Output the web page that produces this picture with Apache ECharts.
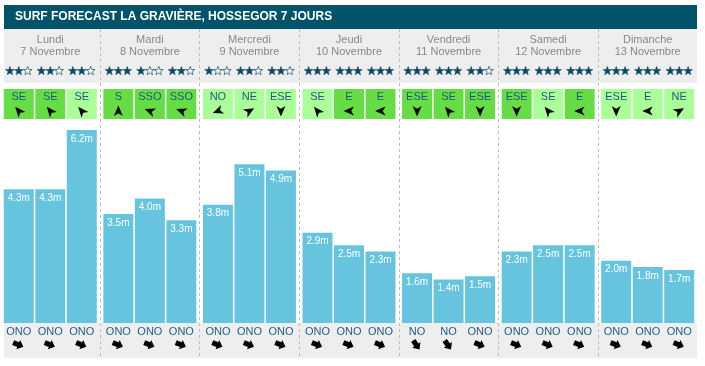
<!DOCTYPE html>
<html>
<head>
<meta charset="utf-8">
<script src="https://cdn.jsdelivr.net/npm/echarts@6/dist/echarts.min.js"></script>
<style>
html,body{margin:0;padding:0;background:#fff;}
#chart{width:705px;height:366px;}
</style>
</head>
<body>
<div id="chart"></div>
<script>
// ---- data ----
var titleText = 'SURF FORECAST LA GRAVIÈRE, HOSSEGOR 7 JOURS';
var days = ['Lundi', 'Mardi', 'Mercredi', 'Jeudi', 'Vendredi', 'Samedi', 'Dimanche'];
var dates = ['7 Novembre', '8 Novembre', '9 Novembre', '10 Novembre', '11 Novembre', '12 Novembre', '13 Novembre'];
var ratings = [[2,2,2],[3,1,2],[1,2,2],[3,3,3],[3,3,2],[3,3,3],[3,3,3]];
var windDirs = [['SE','SE','SE'],['S','SSO','SSO'],['NO','NE','ESE'],['SE','E','E'],['ESE','SE','ESE'],['ESE','SE','E'],['ESE','E','NE']];
var windStrong = [[1,1,0],[1,1,1],[0,0,0],[0,1,1],[1,1,1],[1,0,1],[0,0,0]];
var waveHeights = [[4.3,4.3,6.2],[3.5,4.0,3.3],[3.8,5.1,4.9],[2.9,2.5,2.3],[1.6,1.4,1.5],[2.3,2.5,2.5],[2.0,1.8,1.7]];
var swellDirs = [['ONO','ONO','ONO'],['ONO','ONO','ONO'],['ONO','ONO','ONO'],['ONO','ONO','ONO'],['NO','NO','ONO'],['ONO','ONO','ONO'],['ONO','ONO','ONO']];

// ---- styles ----
var FONT = "'Liberation Sans', Arial, sans-serif";
var BAR_W = 30, BAR_GAP = 0.05;
var SLOT = BAR_W * (1 + BAR_GAP);
var windArrowAngle = {SE: 320, S: 0, SSO: 290, NO: 250, NE: 60, ESE: 180, E: 270};
var swellArrowAngle = {ONO: 112, NO: 145};

function slotX(api, day, slot) {
  return api.coord([day, 0])[0] + (slot - 1) * SLOT;
}
function starPoints(R, r) {
  var pts = [];
  for (var i = 0; i < 10; i++) {
    var a = -Math.PI / 2 + i * Math.PI / 5;
    var rad = i % 2 === 0 ? R : r;
    pts.push([Math.cos(a) * rad, Math.sin(a) * rad]);
  }
  return pts;
}
var STAR = starPoints(4.6, 1.9);
var WIND_ARROW = [[0,-5.5],[4.5,5],[0,2.2],[-4.5,5]];
var SWELL_ARROW = [[0,-6],[5,-0.5],[2.6,-0.5],[2.6,5],[-2.6,5],[-2.6,-0.5],[-5,-0.5]];

var slotData = [];
for (var d = 0; d < days.length; d++) for (var s = 0; s < 3; s++) slotData.push([d, s]);

var chart = echarts.init(document.getElementById('chart'), null, {renderer: 'canvas'});

var barSeries = [0,1,2].map(function (s) {
  return {
    type: 'bar', xAxisIndex: 1, yAxisIndex: 1,
    data: waveHeights.map(function (h) { return h[s]; }),
    barWidth: BAR_W, barGap: (BAR_GAP * 100) + '%',
    itemStyle: {color: '#66c4df'},
    label: {show: true, position: 'insideTop', distance: 4, color: '#fff', fontSize: 10, fontFamily: FONT,
      formatter: function (p) { return p.value.toFixed(1) + 'm'; }},
    z: 3
  };
});

var option = {
  animation: false,
  title: {text: titleText, left: 15, top: 11, padding: 0,
    textStyle: {color: '#fff', fontSize: 12, fontWeight: 'bold', fontFamily: FONT}},
  graphic: [
    {type: 'rect', z: -10, shape: {x: 4, y: 5, width: 693, height: 24}, style: {fill: '#005368'}},
    {type: 'rect', z: -10, shape: {x: 4, y: 29, width: 693, height: 54}, style: {fill: '#eeeeee'}},
    {type: 'rect', z: -10, shape: {x: 4, y: 323, width: 693, height: 35}, style: {fill: '#eeeeee'}}
  ],
  grid: [
    {left: 0.5, width: 697, top: 29, height: 329},
    {left: 0.5, width: 697, top: 130, height: 193}
  ],
  xAxis: [
    {type: 'category', gridIndex: 0, data: days, position: 'top',
      axisLine: {show: false}, axisTick: {show: false},
      axisLabel: {inside: true, margin: 5, interval: 0, verticalAlign: 'top', color: '#888', fontSize: 11, lineHeight: 12, fontFamily: FONT,
        formatter: function (v, i) { return v + '\n' + dates[i]; }},
      splitLine: {show: true, interval: 0, showMinLine: false, showMaxLine: false,
        lineStyle: {color: '#bbbbbb', type: [3, 3], width: 1}}},
    {type: 'category', gridIndex: 1, data: days, show: false}
  ],
  yAxis: [
    {type: 'value', gridIndex: 0, show: false, min: 0, max: 1, splitLine: {show: false}},
    {type: 'value', gridIndex: 1, show: false, min: 0, max: 6.2, splitLine: {show: false}}
  ],
  series: barSeries.concat([
    {
      type: 'custom', xAxisIndex: 1, yAxisIndex: 1, data: slotData, z: 4, clip: false,
      encode: {x: 0, y: 1},
      renderItem: function (params, api) {
        var d = api.value(0), s = api.value(1);
        var cx = slotX(api, d, s);
        var children = [];
        // stars
        for (var k = 0; k < 3; k++) {
          var filled = k < ratings[d][s];
          children.push({type: 'polygon', x: cx + (k - 1) * 8.9, y: 71,
            shape: {points: STAR},
            style: {fill: filled ? '#0d4a62' : '#ffffff', stroke: filled ? '#0d4a62' : '#2a5e74', lineWidth: filled ? 0.5 : 0.8}});
        }
        // wind box
        var dir = windDirs[d][s];
        children.push({type: 'rect', shape: {x: cx - BAR_W / 2, y: 89, width: BAR_W, height: 30},
          style: {fill: windStrong[d][s] ? '#66dd44' : '#aaff99'}});
        children.push({type: 'text', style: {text: dir, x: cx, y: 97, align: 'center', verticalAlign: 'middle',
          fill: '#1a5a82', fontSize: 11, fontFamily: FONT}});
        children.push({type: 'polygon', x: cx, y: 111, rotation: -windArrowAngle[dir] * Math.PI / 180,
          shape: {points: WIND_ARROW}, style: {fill: '#000'}});
        // swell
        var sd = swellDirs[d][s];
        children.push({type: 'text', style: {text: sd, x: cx, y: 332, align: 'center', verticalAlign: 'middle',
          fill: '#21618c', fontSize: 11, fontFamily: FONT}});
        children.push({type: 'polygon', x: cx - 1, y: 344.5, rotation: -swellArrowAngle[sd] * Math.PI / 180,
          shape: {points: SWELL_ARROW}, style: {fill: '#000'}});
        return {type: 'group', children: children};
      }
    }
  ])
};
chart.setOption(option);
</script>
</body>
</html>
